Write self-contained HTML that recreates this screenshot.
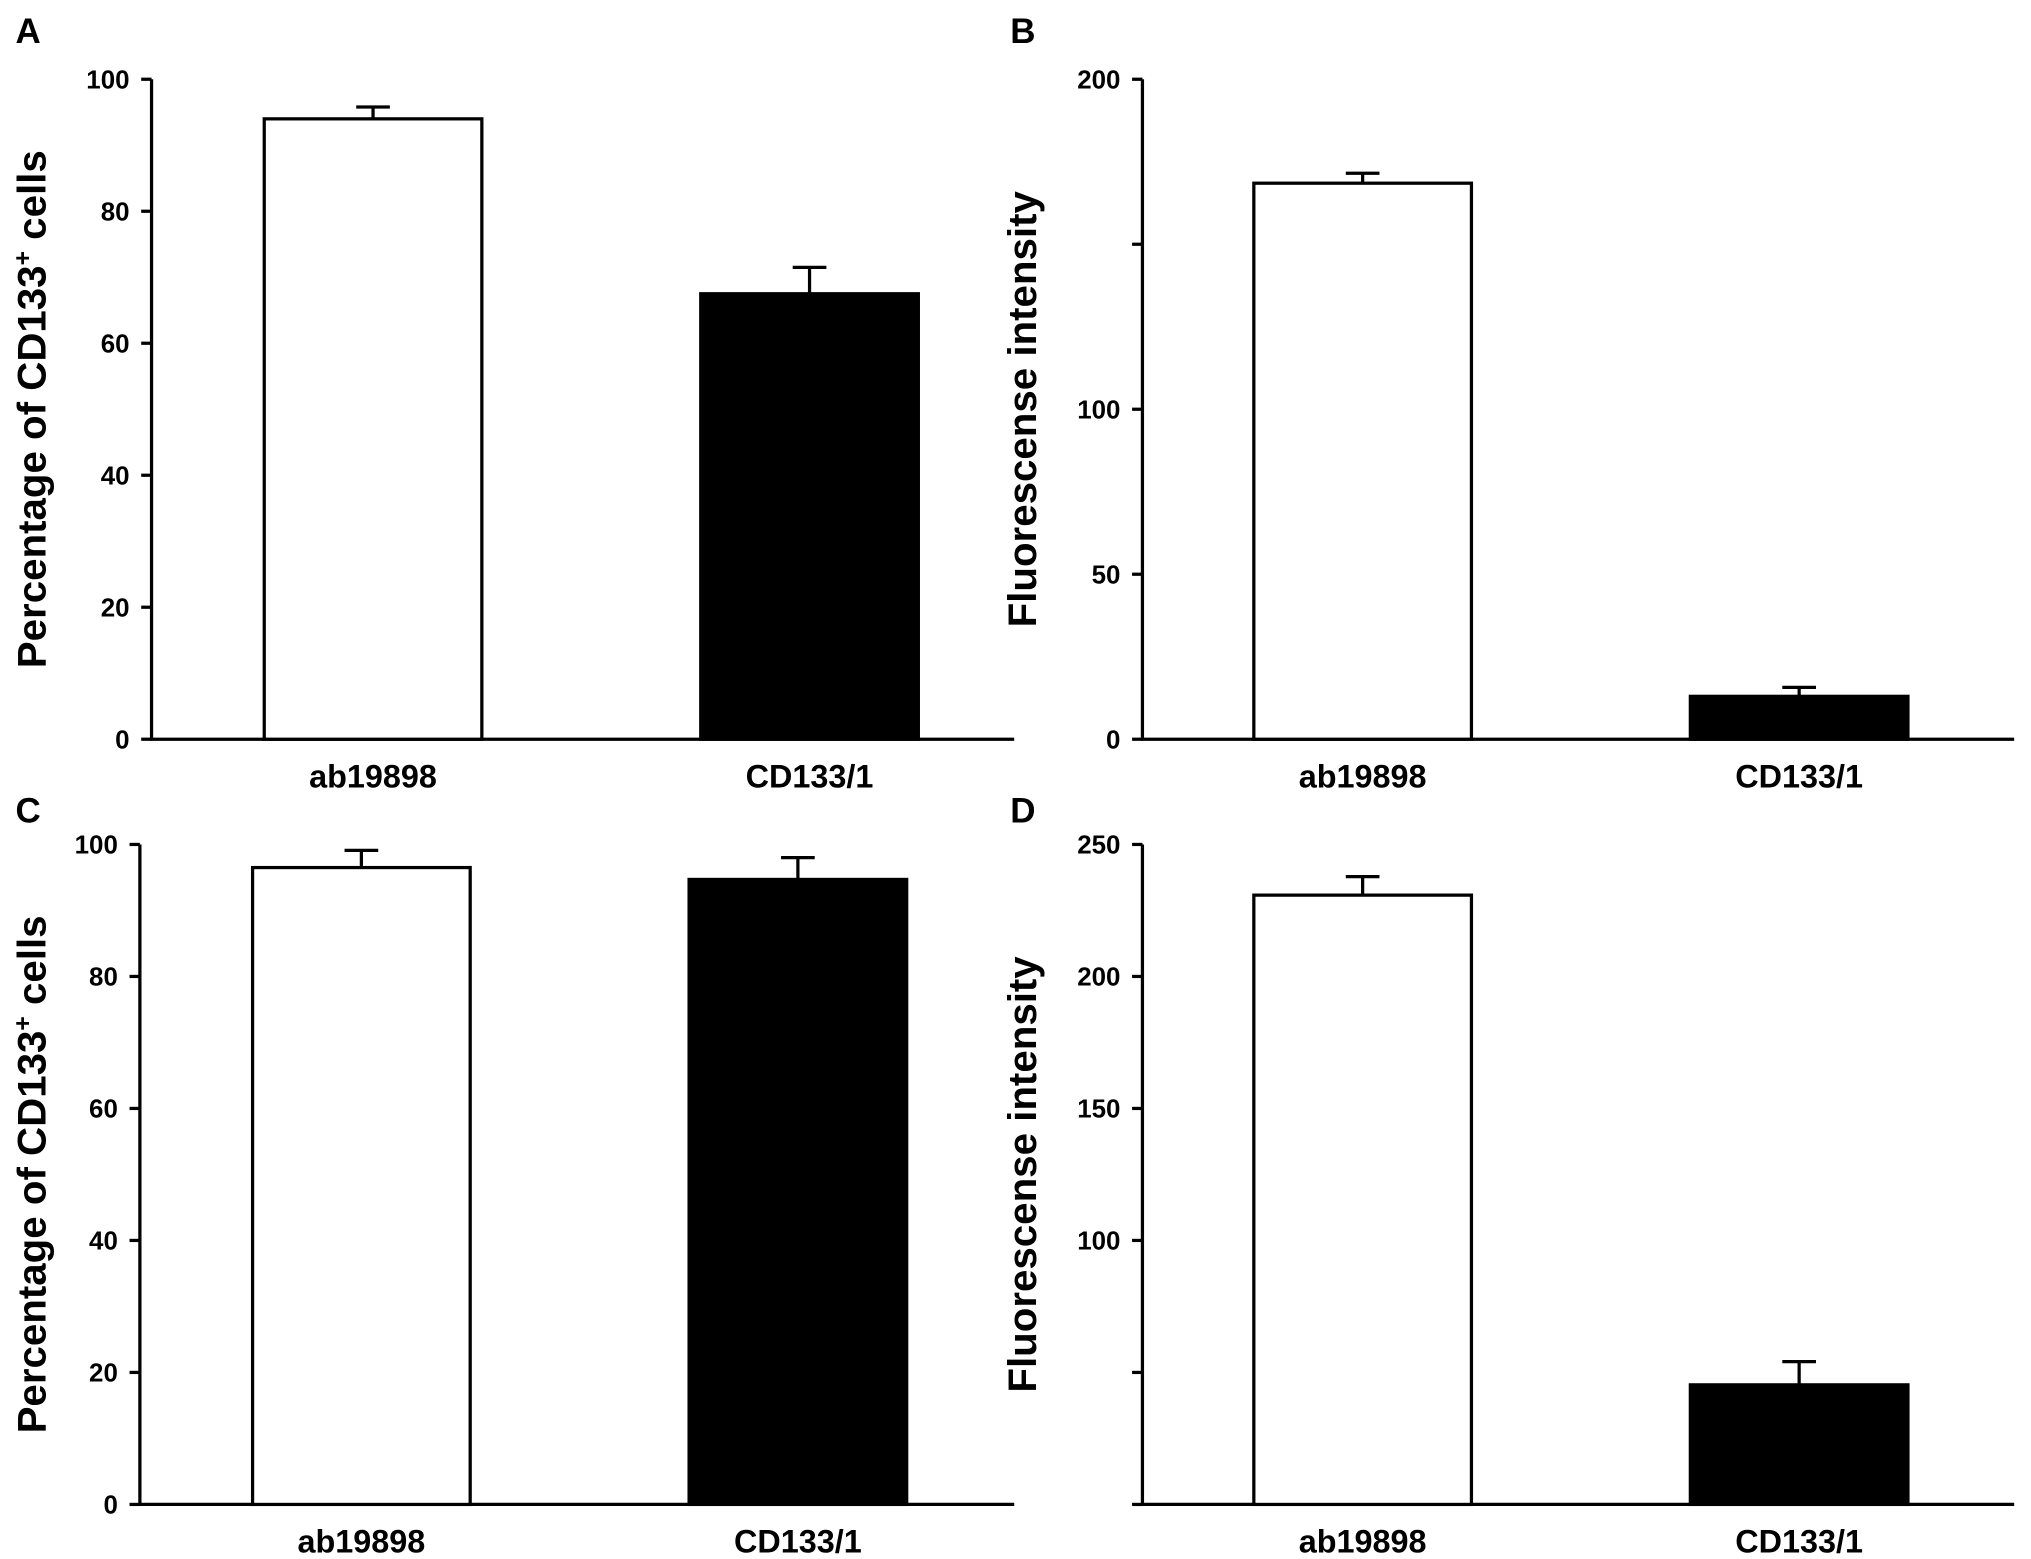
<!DOCTYPE html>
<html><head><meta charset="utf-8"><style>
html,body{margin:0;padding:0;background:#fff;}
svg{display:block;font-family:"Liberation Sans",Arial,sans-serif;font-weight:bold;}
</style></head><body>
<svg id="fig" width="2031" height="1559" viewBox="0 0 1568 1200" preserveAspectRatio="none" xmlns="http://www.w3.org/2000/svg"></svg>
<script>
const categories = ["ab19898", "CD133/1"];
const valuesA = [94, 67.5];
const errorsA = [1.8, 4];
const valuesB = [168.5, 13];
const errorsB = [3, 2.7];
const valuesC = [96.5, 94.7];
const errorsC = [2.6, 3.3];
const valuesD = [230.8, 45.3];
const errorsD = [7, 8.8];
const ticksA = [0, 20, 40, 60, 80, 100];
const ticksB = [0, 50, 100, 150, 200];
const tickLabelsB = ["0", "50", "100", "", "200"];
const ticksD = [0, 50, 100, 150, 200, 250];
const tickLabelsD = ["", "", "100", "150", "200", "250"];

const svg = document.getElementById('fig');
const NS = "http://www.w3.org/2000/svg";
function mk(tag, attrs, parent) {
  const e = document.createElementNS(NS, tag);
  for (const k in attrs) e.setAttribute(k, attrs[k]);
  (parent || svg).appendChild(e);
  return e;
}

const panels = [
  {letter:"A", lx:12, ly:33, x0:117, x1:783, yTop:61, yBot:569, max:100, ticks:ticksA, labels:ticksA.map(String), vals:valuesA, errs:errorsA, bars:[204,541], title:"pct", tx:35},
  {letter:"B", lx:780, ly:33, x0:882, x1:1555, yTop:61, yBot:569, max:200, ticks:ticksB, labels:tickLabelsB, vals:valuesB, errs:errorsB, bars:[968,1305], title:"fl", tx:800},
  {letter:"C", lx:12, ly:633, x0:108, x1:783, yTop:650, yBot:1158, max:100, ticks:ticksA, labels:ticksA.map(String), vals:valuesC, errs:errorsC, bars:[195,532], title:"pct", tx:35},
  {letter:"D", lx:780, ly:633, x0:882, x1:1555, yTop:650, yBot:1158, max:250, ticks:ticksD, labels:tickLabelsD, vals:valuesD, errs:errorsD, bars:[968,1305], title:"fl", tx:800}
];

panels.forEach((p, pi) => {
  const g = mk('g', {});
  
  
  const y = v => p.yBot - v / p.max * (p.yBot - p.yTop);
  const lt = mk('text', {x:p.lx, y:p.ly, 'font-size':27}, g);
  lt.textContent = p.letter;
  
  
  const ya = mk('line', {x1:p.x0, y1:p.yTop, x2:p.x0, y2:p.yBot+1, stroke:'#000', 'stroke-width':2.5}, g);
  
  
  const xa = mk('line', {x1:p.x0-1, y1:p.yBot, x2:p.x1, y2:p.yBot, stroke:'#000', 'stroke-width':2.5}, g);
  
  
  p.ticks.forEach((t, i) => {
    const tk = mk('line', {x1:p.x0-8, y1:y(t), x2:p.x0, y2:y(t), stroke:'#000', 'stroke-width':2.5}, g);
    
    
    if (p.labels[i] !== "") {
      const tl = mk('text', {x:p.x0-17, y:y(t)+7, 'font-size':20, 'text-anchor':'end'}, g);
      tl.textContent = p.labels[i];
      
      
    }
  });
  const cy = (p.yTop + p.yBot) / 2;
  const tt = mk('text', {x:p.tx, y:cy, 'font-size':31, 'text-anchor':'middle', transform:`rotate(-90 ${p.tx} ${cy})`}, g);
  
  
  if (p.title === 'pct') {
    tt.innerHTML = 'Percentage of CD133<tspan font-size="19" dy="-11">+</tspan><tspan dy="11"> cells</tspan>';
  } else {
    tt.textContent = 'Fluorescense intensity';
  }
  const bw = 168;
  p.vals.forEach((v, i) => {
    const bx = p.bars[i];
    const r = mk('rect', {x:bx, y:y(v), width:bw, height:p.yBot - y(v), fill: i === 0 ? '#fff' : '#000', stroke:'#000', 'stroke-width':2.5}, g);
    
    
    const cx = bx + bw / 2, et = y(v + p.errs[i]);
    const e1 = mk('line', {x1:cx, y1:y(v), x2:cx, y2:et, stroke:'#000', 'stroke-width':2.5}, g);
    
    
    const e2 = mk('line', {x1:cx-13, y1:et, x2:cx+13, y2:et, stroke:'#000', 'stroke-width':2.5}, g);
    
    
    const cl = mk('text', {x:cx, y:p.yBot+37, 'font-size':25, 'text-anchor':'middle'}, g);
    cl.textContent = categories[i];
    
    
  });
});
</script>
</body></html>
